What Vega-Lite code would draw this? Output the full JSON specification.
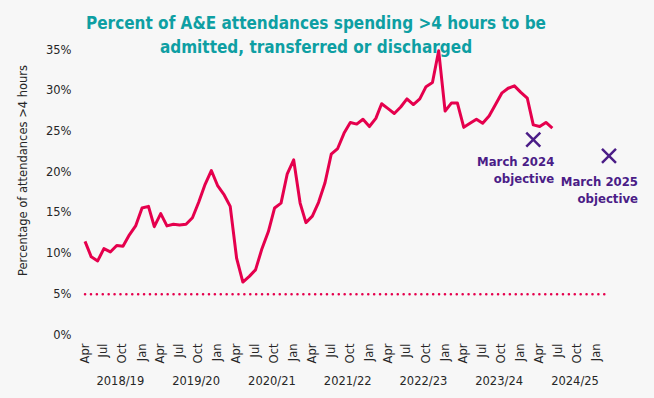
{
  "$schema": "https://vega.github.io/schema/vega-lite/v6.json",
  "autosize": {"type": "none"},
  "padding": {"left": 79, "top": 50, "right": 39, "bottom": 63},
  "width": 536,
  "height": 285,
  "background": "#f7f7f7",
  "config": {
    "view": {"stroke": null},
    "font": "DejaVu Sans",
    "axis": {"labelFont": "DejaVu Sans", "titleFont": "DejaVu Sans", "labelColor": "#262626", "titleColor": "#262626", "labelFontSize": 11.5, "titleFontWeight": "normal"}
  },
  "title": {
    "text": ["Percent of A&E attendances spending >4 hours to be", "admitted, transferred or discharged"],
    "font": "DejaVu Sans Condensed",
    "fontWeight": "bold",
    "fontSize": 17,
    "lineHeight": 24,
    "color": "#0e9fa3",
    "anchor": "middle",
    "frame": "group",
    "dx": -31,
    "offset": -13
  },
  "datasets": {
    "ae": [
      {"date": "2018-04-01", "pct": 11.5}, {"date": "2018-05-01", "pct": 9.6}, {"date": "2018-06-01", "pct": 9.1},
      {"date": "2018-07-01", "pct": 10.6}, {"date": "2018-08-01", "pct": 10.2}, {"date": "2018-09-01", "pct": 11.0},
      {"date": "2018-10-01", "pct": 10.9}, {"date": "2018-11-01", "pct": 12.3}, {"date": "2018-12-01", "pct": 13.4},
      {"date": "2019-01-01", "pct": 15.6}, {"date": "2019-02-01", "pct": 15.8}, {"date": "2019-03-01", "pct": 13.3},
      {"date": "2019-04-01", "pct": 14.9}, {"date": "2019-05-01", "pct": 13.4}, {"date": "2019-06-01", "pct": 13.6},
      {"date": "2019-07-01", "pct": 13.5}, {"date": "2019-08-01", "pct": 13.6}, {"date": "2019-09-01", "pct": 14.4},
      {"date": "2019-10-01", "pct": 16.3}, {"date": "2019-11-01", "pct": 18.5}, {"date": "2019-12-01", "pct": 20.2},
      {"date": "2020-01-01", "pct": 18.3}, {"date": "2020-02-01", "pct": 17.2}, {"date": "2020-03-01", "pct": 15.8},
      {"date": "2020-04-01", "pct": 9.4}, {"date": "2020-05-01", "pct": 6.5}, {"date": "2020-06-01", "pct": 7.2},
      {"date": "2020-07-01", "pct": 8.0}, {"date": "2020-08-01", "pct": 10.6}, {"date": "2020-09-01", "pct": 12.7},
      {"date": "2020-10-01", "pct": 15.6}, {"date": "2020-11-01", "pct": 16.2}, {"date": "2020-12-01", "pct": 19.8},
      {"date": "2021-01-01", "pct": 21.5}, {"date": "2021-02-01", "pct": 16.2}, {"date": "2021-03-01", "pct": 13.8},
      {"date": "2021-04-01", "pct": 14.6}, {"date": "2021-05-01", "pct": 16.3}, {"date": "2021-06-01", "pct": 18.7},
      {"date": "2021-07-01", "pct": 22.2}, {"date": "2021-08-01", "pct": 22.9}, {"date": "2021-09-01", "pct": 24.8},
      {"date": "2021-10-01", "pct": 26.1}, {"date": "2021-11-01", "pct": 25.9}, {"date": "2021-12-01", "pct": 26.5},
      {"date": "2022-01-01", "pct": 25.6}, {"date": "2022-02-01", "pct": 26.6}, {"date": "2022-03-01", "pct": 28.4},
      {"date": "2022-04-01", "pct": 27.8}, {"date": "2022-05-01", "pct": 27.2}, {"date": "2022-06-01", "pct": 28.0},
      {"date": "2022-07-01", "pct": 29.0}, {"date": "2022-08-01", "pct": 28.3}, {"date": "2022-09-01", "pct": 29.0},
      {"date": "2022-10-01", "pct": 30.5}, {"date": "2022-11-01", "pct": 31.0}, {"date": "2022-12-01", "pct": 34.9},
      {"date": "2023-01-01", "pct": 27.5}, {"date": "2023-02-01", "pct": 28.5}, {"date": "2023-03-01", "pct": 28.5},
      {"date": "2023-04-01", "pct": 25.5}, {"date": "2023-05-01", "pct": 26.0}, {"date": "2023-06-01", "pct": 26.5},
      {"date": "2023-07-01", "pct": 26.0}, {"date": "2023-08-01", "pct": 26.9}, {"date": "2023-09-01", "pct": 28.3},
      {"date": "2023-10-01", "pct": 29.7}, {"date": "2023-11-01", "pct": 30.3}, {"date": "2023-12-01", "pct": 30.6},
      {"date": "2024-01-01", "pct": 29.8}, {"date": "2024-02-01", "pct": 29.1}, {"date": "2024-03-01", "pct": 25.8},
      {"date": "2024-04-01", "pct": 25.6}, {"date": "2024-05-01", "pct": 26.1}, {"date": "2024-06-01", "pct": 25.4}
    ],
    "target": [
      {"date": "2018-04-01", "pct": 5},
      {"date": "2025-03-01", "pct": 5}
    ],
    "objectives": [
      {"date": "2024-03-01", "pct": 24, "label": "March 2024\nobjective"},
      {"date": "2025-03-01", "pct": 22, "label": "March 2025\nobjective"}
    ]
  },
  "resolve": {"axis": {"x": "independent"}},
  "layer": [
    {
      "data": {"name": "target"},
      "mark": {"type": "line", "color": "#e5004d", "strokeWidth": 2.5, "strokeDash": [0.1, 5.8], "strokeCap": "round"},
      "encoding": {
        "x": {"field": "date", "type": "temporal",
          "scale": {"type": "utc", "domain": ["2018-03-03", "2025-03-30"], "nice": false},
          "axis": {"orient": "bottom", "values": [
              {"year": 2018, "month": 9, "date": 16, "utc": true},
              {"year": 2019, "month": 9, "date": 16, "utc": true},
              {"year": 2020, "month": 9, "date": 16, "utc": true},
              {"year": 2021, "month": 9, "date": 16, "utc": true},
              {"year": 2022, "month": 9, "date": 16, "utc": true},
              {"year": 2023, "month": 9, "date": 16, "utc": true},
              {"year": 2024, "month": 9, "date": 16, "utc": true}
            ],
            "labelExpr": "utcyear(datum.value) + '/' + ((utcyear(datum.value) + 1) % 100)",
            "labelAngle": 0, "labelPadding": 40, "tickSize": 0, "ticks": false, "domain": false, "grid": false,
            "title": null, "labelOverlap": false, "labelFlush": false, "labelFontSize": 11.5}},
        "y": {"field": "pct", "type": "quantitative",
          "scale": {"domain": [0, 35], "nice": false},
          "axis": {"values": [0, 5, 10, 15, 20, 25, 30, 35], "labelExpr": "datum.value + '%'",
            "domain": false, "ticks": false, "tickSize": 0, "grid": false, "labelPadding": 8,
            "title": "Percentage of attendances >4 hours", "titleFontSize": 11.5, "titleAngle": -90,
            "titleX": -56, "titleY": 120, "titleAlign": "center", "titleBaseline": "middle"}}
      }
    },
    {
      "data": {"name": "ae"},
      "mark": {"type": "line", "color": "#e5004d", "strokeWidth": 3, "strokeJoin": "round"},
      "encoding": {
        "x": {"field": "date", "type": "temporal",
          "axis": {"orient": "bottom", "tickCount": {"interval": "month", "step": 3},
            "labelExpr": "utcFormat(datum.value, '%b')",
            "labelAngle": -90, "labelPadding": 8, "tickSize": 0, "ticks": false, "domain": false, "grid": false,
            "title": null, "labelOverlap": false, "labelFlush": false, "labelFontSize": 11.5}},
        "y": {"field": "pct", "type": "quantitative"}
      }
    },
    {
      "data": {"name": "objectives"},
      "mark": {"type": "point", "shape": "M-1,-1L1,1M-1,1L1,-1", "size": 196, "filled": false, "stroke": "#4b1d87", "strokeWidth": 2.5, "opacity": 1},
      "encoding": {
        "x": {"field": "date", "type": "temporal", "axis": null},
        "y": {"field": "pct", "type": "quantitative"}
      }
    },
    {
      "data": {"name": "objectives"},
      "transform": [{"filter": "datum.pct == 24"}],
      "mark": {"type": "text", "align": "right", "baseline": "alphabetic", "dx": 21, "dy": 26, "lineBreak": "\n", "lineHeight": 17.5, "font": "DejaVu Sans Condensed", "fontWeight": "bold", "fontSize": 13, "color": "#4b1d87"},
      "encoding": {
        "x": {"field": "date", "type": "temporal", "axis": null},
        "y": {"field": "pct", "type": "quantitative"},
        "text": {"field": "label"}
      }
    },
    {
      "data": {"name": "objectives"},
      "transform": [{"filter": "datum.pct == 22"}],
      "mark": {"type": "text", "align": "right", "baseline": "alphabetic", "dx": 29, "dy": 30, "lineBreak": "\n", "lineHeight": 17.5, "font": "DejaVu Sans Condensed", "fontWeight": "bold", "fontSize": 13, "color": "#4b1d87"},
      "encoding": {
        "x": {"field": "date", "type": "temporal", "axis": null},
        "y": {"field": "pct", "type": "quantitative"},
        "text": {"field": "label"}
      }
    }
  ]
}
